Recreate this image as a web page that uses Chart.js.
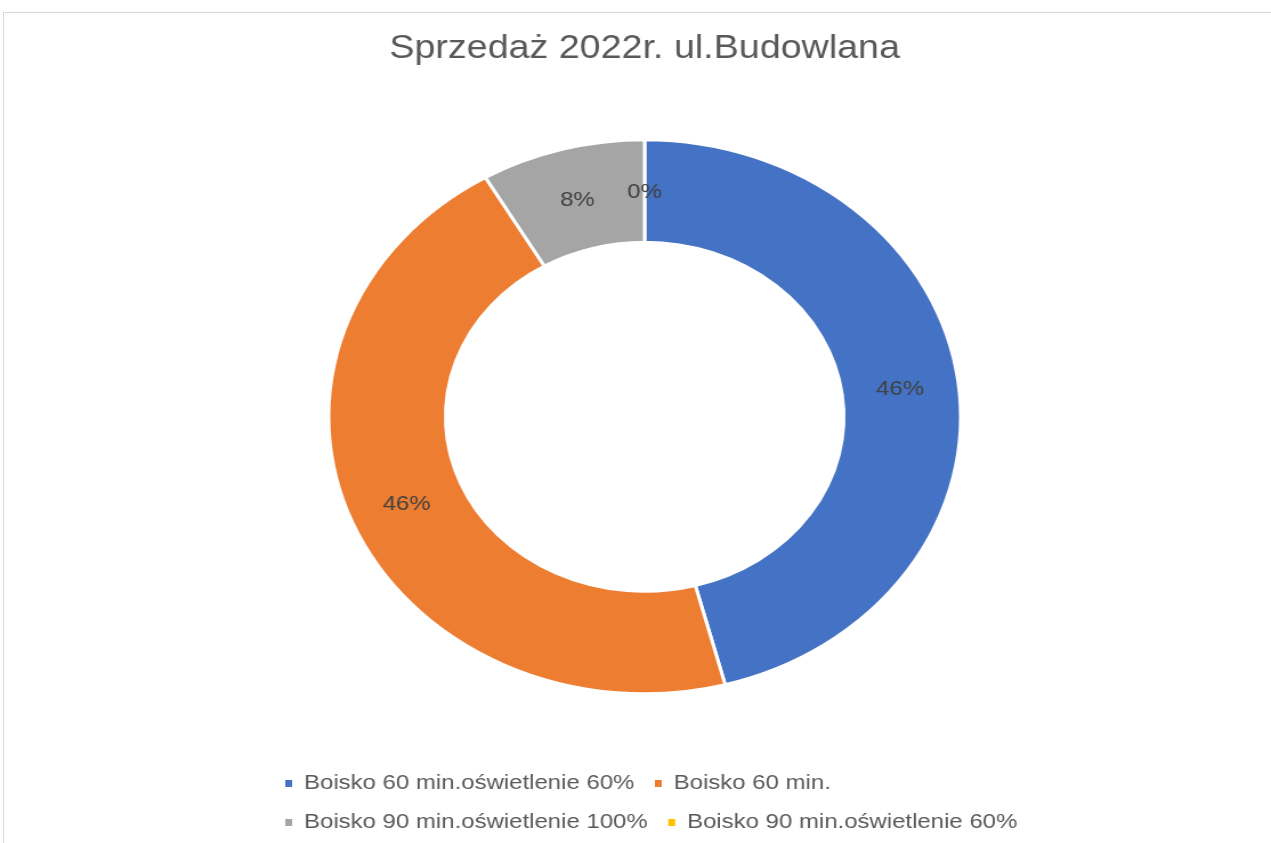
<!DOCTYPE html>
<html lang="pl">
<head>
<meta charset="utf-8">
<title>Sprzedaż 2022r. ul.Budowlana</title>
<script src="https://cdn.jsdelivr.net/npm/chart.js@4/dist/chart.umd.min.js"></script>
<style>
    html, body { margin: 0; padding: 0; background: #ffffff; overflow: hidden; }
    #wrap { position: relative; width: 1271px; height: 843px; }
    #frame {
        position: absolute; left: 3px; top: 12px; width: 1300px; height: 900px;
        border-top: 1px solid #d9d9d9; border-left: 1px solid #d9d9d9;
        pointer-events: none;
    }
    /* the source chart was stretched sideways, so the canvas is too */
    #salesChart { position: absolute; left: 0; top: 0; width: 1271px; height: 843px; }
</style>
</head>
<body>
<div id="wrap">
    <div id="frame"></div>
    <canvas id="salesChart" width="1114" height="843" style="width:1271px;height:843px"></canvas>
</div>
<script>
const chartTitle = 'Sprzedaż 2022r. ul.Budowlana';
const categories = [
    'Boisko 60 min.oświetlenie 60%',
    'Boisko 60 min.',
    'Boisko 90 min.oświetlenie 100%',
    'Boisko 90 min.oświetlenie 60%'
];
const shares = [45.9, 45.7, 8.4, 0];
const colors = ['#4472C4', '#ED7D31', '#A5A5A5', '#FFC000'];

const fontFamily = '"Liberation Sans", Arial, sans-serif';

// percentage labels in the middle of each ring segment
const sliceLabels = {
    id: 'sliceLabels',
    afterDatasetsDraw(chart) {
        const ctx = chart.ctx;
        const values = chart.data.datasets[0].data;
        const total = values.reduce((a, b) => a + b, 0);
        ctx.save();
        ctx.font = '21px ' + fontFamily;
        ctx.fillStyle = '#404040';
        ctx.textAlign = 'center';
        ctx.textBaseline = 'middle';
        chart.getDatasetMeta(0).data.forEach((arc, i) => {
            const pos = arc.tooltipPosition();
            ctx.fillText(Math.round(values[i] / total * 100) + '%', pos.x, pos.y + 1);
        });
        ctx.restore();
    }
};

// keep the legend rows left aligned under the ring, like the original
const legendColumn = {
    id: 'legendColumn',
    beforeDraw(chart) {
        chart.legend.left = 232;
        chart.legend.right = 1040;
    }
};

const baseLabels = Chart.overrides.doughnut.plugins.legend.labels.generateLabels;

new Chart(document.getElementById('salesChart'), {
    type: 'doughnut',
    data: {
        labels: categories,
        datasets: [{
            data: shares,
            backgroundColor: colors,
            borderColor: '#ffffff',
            borderWidth: 3
        }]
    },
    options: {
        responsive: false,
        animation: false,
        radius: 277,
        cutout: '63%',
        layout: { padding: { left: 16, right: 0, top: 0, bottom: 0 } },
        plugins: {
            title: {
                display: true,
                text: chartTitle,
                color: '#595959',
                font: { family: fontFamily, size: 33, weight: 'normal' },
                padding: { top: 29, bottom: 10 }
            },
            legend: {
                position: 'bottom',
                align: 'start',
                labels: {
                    color: '#595959',
                    font: { family: fontFamily, size: 21 },
                    boxWidth: 6,
                    boxHeight: 7,
                    padding: 18,
                    generateLabels(chart) {
                        return baseLabels(chart).map(item => {
                            item.lineWidth = 0;
                            item.strokeStyle = item.fillStyle;
                            return item;
                        });
                    }
                }
            },
            tooltip: { enabled: false }
        }
    },
    plugins: [sliceLabels, legendColumn]
});
</script>
</body>
</html>
